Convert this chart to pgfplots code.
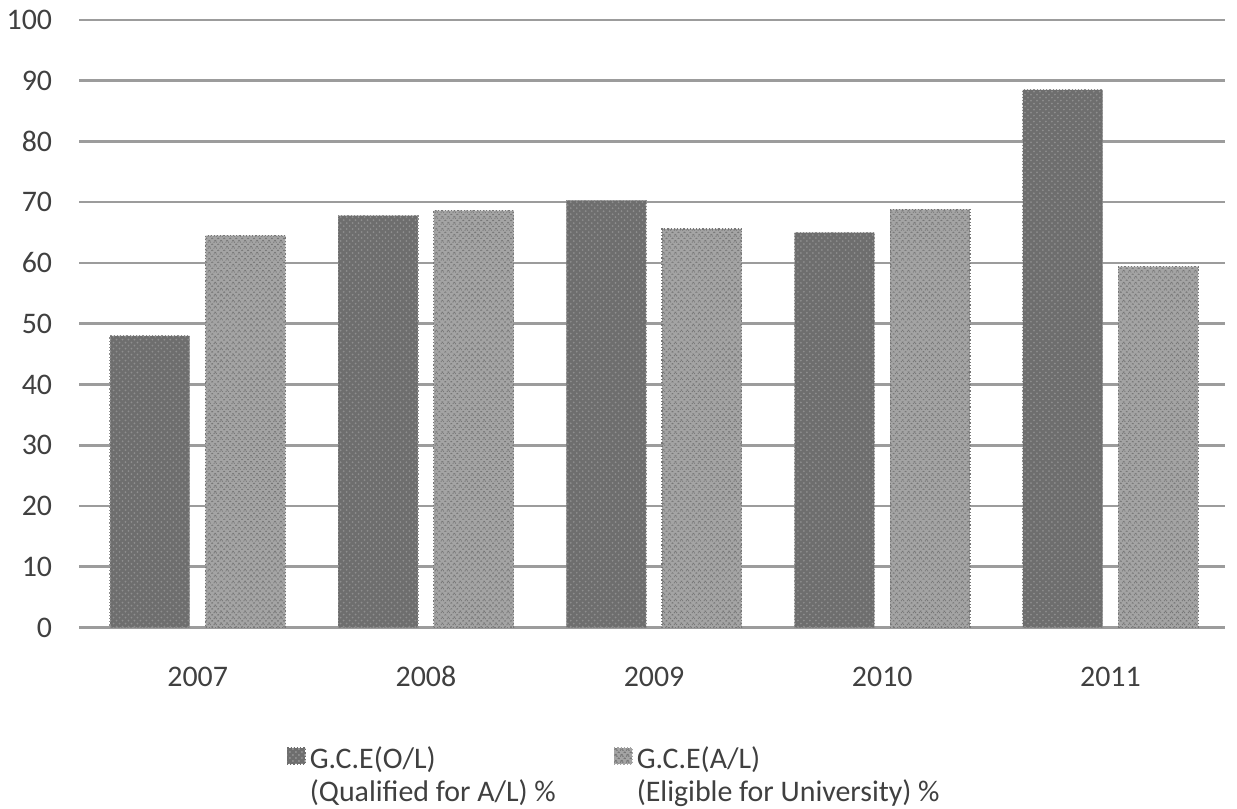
\documentclass[border=0pt]{standalone}
\usepackage{fontspec}
\setmainfont{Carlito}
\usepackage{pgfplots}
\pgfplotsset{compat=1.18}
\usetikzlibrary{patterns}
\definecolor{olfill}{HTML}{6E6E6E}
\definecolor{olpat}{HTML}{8E8E8E}
\definecolor{alfill}{HTML}{A4A4A4}
\definecolor{alpat}{HTML}{777777}
\definecolor{gridc}{HTML}{9C9C9C}
\definecolor{txt}{HTML}{404040}
\pgfplotstableread{
x ol al
0 48.0 64.5
1 67.8 68.6
2 70.3 65.6
3 65.0 68.8
4 88.5 59.4
}\data
\begin{document}
\begin{tikzpicture}
\begin{axis}[
  scale only axis,
  width=575pt, height=305pt,
  xmin=-0.52, xmax=4.5,
  ymin=0, ymax=100,
  ytick={0,10,...,100},
  xtick={0,1,2,3,4},
  xticklabels={2007,2008,2009,2010,2011},
  axis line style={draw=none},
  tick style={draw=none},
  ymajorgrids,
  grid style={gridc, line width=1.3pt},
  /pgf/number format/assume math mode=true,
  tick label style={font=\fontsize{15}{18}\selectfont, text=txt},
  yticklabel style={xshift=-10pt},
  xticklabel style={yshift=-11pt, text height=11pt, text depth=0pt},
  ybar, bar width=40pt,
  legend columns=2,
  legend style={at={(0.181,-0.1895)}, anchor=north west, draw=none, inner sep=0pt,
    font=\fontsize{15}{16.5}\selectfont, text=txt,
    cells={anchor=west, align=left},
    /tikz/every even column/.append style={column sep=27pt},
    /tikz/every odd column/.append style={column sep=0pt}},
  clip=false,
]
\addplot[fill=olfill, draw=olpat, densely dotted, line width=0.6pt, bar shift=-24pt,
  postaction={pattern=crosshatch dots, pattern color=olpat},
  legend image code/.code={\fill[olfill, postaction={pattern=crosshatch dots, pattern color=olpat}] (0pt,6pt) rectangle (9pt,14pt);}]
  table[x=x, y=ol] {\data};
\addlegendentry{G.C.E(O/L)\\(Qualified for A/L) \%}
\addplot[fill=alfill, draw=alpat, densely dotted, line width=0.6pt, bar shift=24pt,
  postaction={pattern=crosshatch, pattern color=alpat},
  legend image code/.code={\fill[alfill, postaction={pattern=crosshatch, pattern color=alpat}] (0pt,6pt) rectangle (9pt,14pt);}]
  table[x=x, y=al] {\data};
\addlegendentry{G.C.E(A/L)\\(Eligible for University) \%}
\coordinate (bl) at (rel axis cs:0,0);
\coordinate (tr) at (rel axis cs:1,1);
\end{axis}
\path ([shift={(-37.5pt,-91pt)}]bl) rectangle ([shift={(6.25pt,10pt)}]tr);
\end{tikzpicture}
\end{document}
